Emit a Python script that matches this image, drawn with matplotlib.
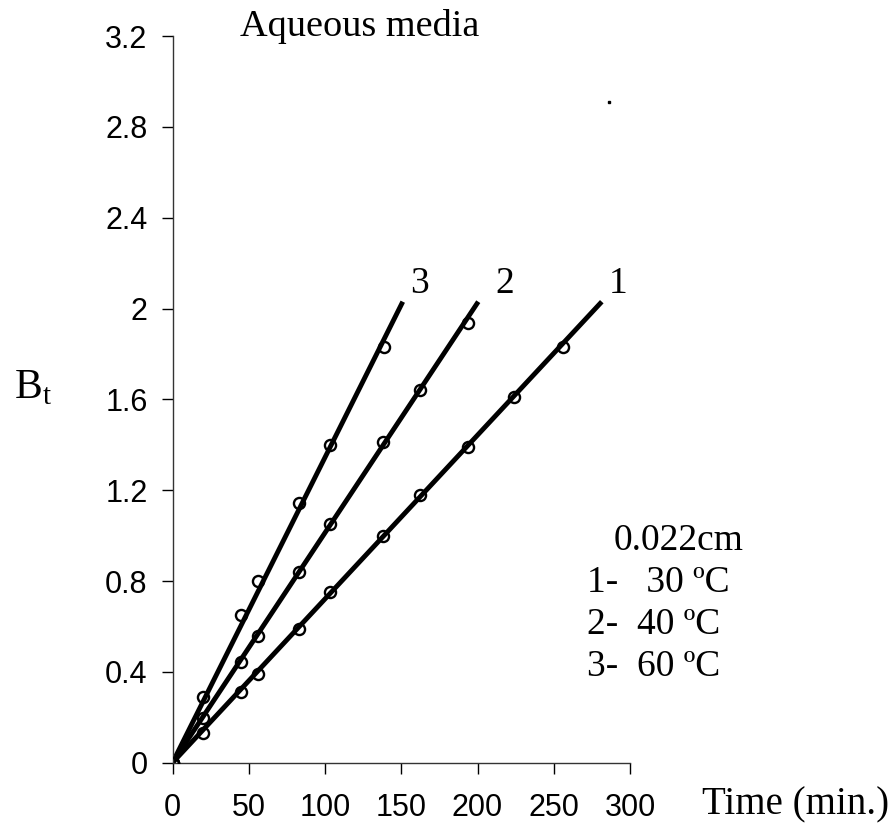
import matplotlib
matplotlib.use("Agg")
import matplotlib.pyplot as plt

# Data
time_30 = [0, 20, 45, 56, 83, 103, 138, 162, 194, 224, 256]
bt_30 = [0, 0.13, 0.31, 0.39, 0.59, 0.75, 1.0, 1.18, 1.39, 1.61, 1.83]
time_40 = [0, 20, 45, 56, 83, 103, 138, 162, 194]
bt_40 = [0, 0.195, 0.445, 0.56, 0.84, 1.05, 1.41, 1.64, 1.935]
time_60 = [0, 20, 45, 56, 83, 103, 139]
bt_60 = [0, 0.29, 0.65, 0.80, 1.145, 1.40, 1.83]

# fitted lines (through origin), end points
fit_end_time = [281.5, 200.5, 151.0]   # series 1, 2, 3
fit_end_bt = [2.03, 2.03, 2.03]
series_labels = ["1", "2", "3"]

xticks = [0, 50, 100, 150, 200, 250, 300]
yticks = [0, 0.4, 0.8, 1.2, 1.6, 2.0, 2.4, 2.8, 3.2]
ytick_labels = ["0", "0.4", "0.8", "1.2", "1.6", "2", "2.4", "2.8", "3.2"]

legend_lines = ["0.022cm", "1-   30 ºC", "2-  40 ºC", "3-  60 ºC"]

W, H = 892, 835
fig = plt.figure(figsize=(W / 100, H / 100), dpi=100)
ax = fig.add_axes([172.5 / W, 1 - 762.7 / H, (630 - 172.5) / W, (762.7 - 36) / H])

serif = "Liberation Serif"
sans = "Liberation Sans"

for xs, ys in [(time_30, bt_30), (time_40, bt_40), (time_60, bt_60)]:
    ax.plot(xs, ys, linestyle="none", marker="o", markersize=8,
            markerfacecolor="none", markeredgecolor="black", markeredgewidth=1.7,
            zorder=3)

for xe, ye in zip(fit_end_time, fit_end_bt):
    ax.plot([0, xe], [0, ye], color="black", linewidth=3.5,
            solid_capstyle="butt", zorder=2)

# series labels
for xe, lab in zip([292, 218, 162], series_labels):
    ax.text(xe, 2.11, lab, fontsize=27, family=serif, ha="center", va="center")

ax.set_xlim(0, 300)
ax.set_ylim(0, 3.2)
ax.set_xticks(xticks)
ax.set_yticks(yticks)
ax.set_yticklabels(ytick_labels)
ax.tick_params(direction="out", length=8, width=1, colors="black",
               labelsize=22)
for lbl in ax.get_xticklabels() + ax.get_yticklabels():
    lbl.set_family(sans)
ax.tick_params(axis="x", pad=14)
ax.tick_params(axis="y", pad=10)
for s in ["top", "right"]:
    ax.spines[s].set_visible(False)
for s in ["left", "bottom"]:
    ax.spines[s].set_linewidth(1)
    ax.spines[s].set_color("#333333")

# tiny artifact dot
ax.plot([286], [2.91], marker="s", markersize=1.5, color="black",
        linestyle="none", clip_on=False)

fig.text(240 / W, 1 - 27 / H, "Aqueous media", fontsize=27.5, family=serif,
         ha="left", va="center")
fig.text(889 / W, 1 - 805 / H, "Time (min.)", fontsize=28, family=serif,
         ha="right", va="center")
fig.text(14 / W, 1 - 388 / H, r"B$_\mathregular{t}$", fontsize=30, family=serif,
         ha="left", va="center")

leg_x = [614, 587, 587, 587]
leg_y = [541, 583, 625, 667]
for t, lx, ly in zip(legend_lines, leg_x, leg_y):
    fig.text(lx / W, 1 - ly / H, t, fontsize=27, family=serif,
             ha="left", va="center")

fig.savefig("out.png", dpi=100)
